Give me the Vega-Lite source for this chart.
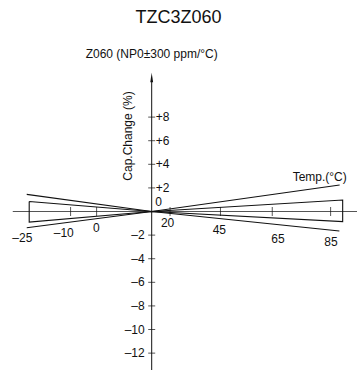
{
  "$schema": "https://vega.github.io/schema/vega-lite/v6.json",
  "width": 357,
  "height": 340,
  "autosize": {"type": "none"},
  "padding": {"top": 30, "left": 0, "right": 0, "bottom": 0},
  "background": "white",
  "data": {"values": [{}]},
  "title": {
    "text": "TZC3Z060",
    "anchor": "middle",
    "font": "Liberation Sans",
    "fontSize": 18,
    "fontWeight": "normal",
    "color": "#111",
    "offset": 3
  },
  "config": {
    "view": {"stroke": null},
    "axis": {"disable": true},
    "text": {"font": "Liberation Sans", "fontSize": 12, "color": "#111"}
  },
  "datasets": {
    "curves": [
      {"series": "upper", "order": 1, "temp": -25.6, "change": 1.45},
      {"series": "upper", "order": 2, "temp": 20, "change": 0},
      {"series": "upper", "order": 3, "temp": 88.6, "change": 2.25},
      {"series": "lower", "order": 1, "temp": -25.6, "change": -1.37},
      {"series": "lower", "order": 2, "temp": 20, "change": 0},
      {"series": "lower", "order": 3, "temp": 88.5, "change": -1.65},
      {"series": "band", "order": 1, "temp": -24.7, "change": 0.85},
      {"series": "band", "order": 2, "temp": 20, "change": 0},
      {"series": "band", "order": 3, "temp": 89.7, "change": 0.97},
      {"series": "band", "order": 4, "temp": 89.7, "change": -0.86},
      {"series": "band", "order": 5, "temp": 20, "change": 0},
      {"series": "band", "order": 6, "temp": -24.7, "change": -0.9},
      {"series": "band", "order": 7, "temp": -24.7, "change": 0.85}
    ],
    "xticks": [
      {"label": "–25", "tick": -25, "lx": -27.2, "lv": -2.25},
      {"label": "–10", "tick": -9.6, "lx": -12.1, "lv": -1.85},
      {"label": "0", "tick": -0.1, "lx": -0.2, "lv": -1.36},
      {"label": "20", "tick": 26.7, "lx": 25.8, "lv": -0.97},
      {"label": "45", "tick": 45.1, "lx": 44.7, "lv": -1.55},
      {"label": "65", "tick": 64.0, "lx": 66.1, "lv": -2.32},
      {"label": "85", "tick": 85.3, "lx": 85.4, "lv": -2.61}
    ],
    "yticks": [
      {"value": 8, "label": "+8"},
      {"value": 6, "label": "+6"},
      {"value": 4, "label": "+4"},
      {"value": 2, "label": "+2"},
      {"value": -2, "label": "–2"},
      {"value": -4, "label": "–4"},
      {"value": -6, "label": "–6"},
      {"value": -8, "label": "–8"},
      {"value": -10, "label": "–10"},
      {"value": -12, "label": "–12"}
    ]
  },
  "layer": [
    {
      "mark": {"type": "rule", "color": "#555", "strokeWidth": 1},
      "encoding": {
        "x": {"datum": -30.7, "type": "quantitative", "scale": {"domain": [-35.36, 94.93], "nice": false, "zero": false}},
        "x2": {"datum": 96},
        "y": {"datum": 0, "type": "quantitative", "scale": {"domain": [-13.43, 15.38], "nice": false, "zero": false}}
      }
    },
    {
      "mark": {"type": "rule", "color": "#111", "strokeWidth": 1},
      "encoding": {
        "x": {"datum": 20, "type": "quantitative"},
        "y": {"datum": 11.1, "type": "quantitative"},
        "y2": {"datum": -14}
      }
    },
    {
      "mark": {"type": "point", "shape": "M0,-1L-0.3,1L0.3,1Z", "filled": true, "color": "#111", "size": 90, "opacity": 1},
      "encoding": {
        "x": {"datum": 20, "type": "quantitative"},
        "y": {"datum": 11.35, "type": "quantitative"}
      }
    },
    {
      "data": {"name": "curves"},
      "mark": {"type": "line", "color": "#111", "strokeWidth": 1.1, "strokeJoin": "miter"},
      "encoding": {
        "x": {"field": "temp", "type": "quantitative"},
        "y": {"field": "change", "type": "quantitative"},
        "detail": {"field": "series"},
        "order": {"field": "order"}
      }
    },
    {
      "data": {"name": "xticks"},
      "transform": [{"filter": "datum.tick > -20"}],
      "mark": {"type": "tick", "orient": "vertical", "color": "#111", "size": 9, "thickness": 1},
      "encoding": {
        "x": {"field": "tick", "type": "quantitative"},
        "y": {"datum": 0, "type": "quantitative"}
      }
    },
    {
      "data": {"name": "xticks"},
      "mark": {"type": "text", "align": "center", "baseline": "middle"},
      "encoding": {
        "x": {"field": "lx", "type": "quantitative"},
        "y": {"field": "lv", "type": "quantitative"},
        "text": {"field": "label"}
      }
    },
    {
      "data": {"name": "yticks"},
      "mark": {"type": "tick", "orient": "horizontal", "color": "#111", "size": 7, "thickness": 1},
      "encoding": {
        "x": {"datum": 20, "type": "quantitative"},
        "y": {"field": "value", "type": "quantitative"}
      }
    },
    {
      "data": {"name": "yticks"},
      "transform": [{"filter": "datum.value > 0"}],
      "mark": {"type": "text", "align": "left", "baseline": "middle", "dx": 4},
      "encoding": {
        "x": {"datum": 20, "type": "quantitative"},
        "y": {"field": "value", "type": "quantitative"},
        "text": {"field": "label"}
      }
    },
    {
      "data": {"name": "yticks"},
      "transform": [{"filter": "datum.value < 0"}],
      "mark": {"type": "text", "align": "right", "baseline": "middle", "dx": -7},
      "encoding": {
        "x": {"datum": 20, "type": "quantitative"},
        "y": {"field": "value", "type": "quantitative"},
        "text": {"field": "label"}
      }
    },
    {
      "mark": {"type": "text", "align": "center", "baseline": "middle", "dx": 7, "dy": -10},
      "encoding": {
        "x": {"datum": 20, "type": "quantitative"},
        "y": {"datum": 0, "type": "quantitative"},
        "text": {"value": "0"}
      }
    },
    {
      "mark": {"type": "text", "align": "center", "baseline": "middle", "angle": 270},
      "encoding": {
        "x": {"datum": 11.2, "type": "quantitative"},
        "y": {"datum": 6.4, "type": "quantitative"},
        "text": {"value": "Cap.Change (%)"}
      }
    },
    {
      "mark": {"type": "text", "align": "right", "baseline": "middle"},
      "encoding": {
        "x": {"datum": 91.2, "type": "quantitative"},
        "y": {"datum": 2.92, "type": "quantitative"},
        "text": {"value": "Temp.(°C)"}
      }
    },
    {
      "mark": {"type": "text", "align": "center", "baseline": "middle"},
      "encoding": {
        "x": {"datum": 20, "type": "quantitative"},
        "y": {"datum": 13.35, "type": "quantitative"},
        "text": {"value": "Z060 (NP0±300 ppm/°C)"}
      }
    }
  ]
}
